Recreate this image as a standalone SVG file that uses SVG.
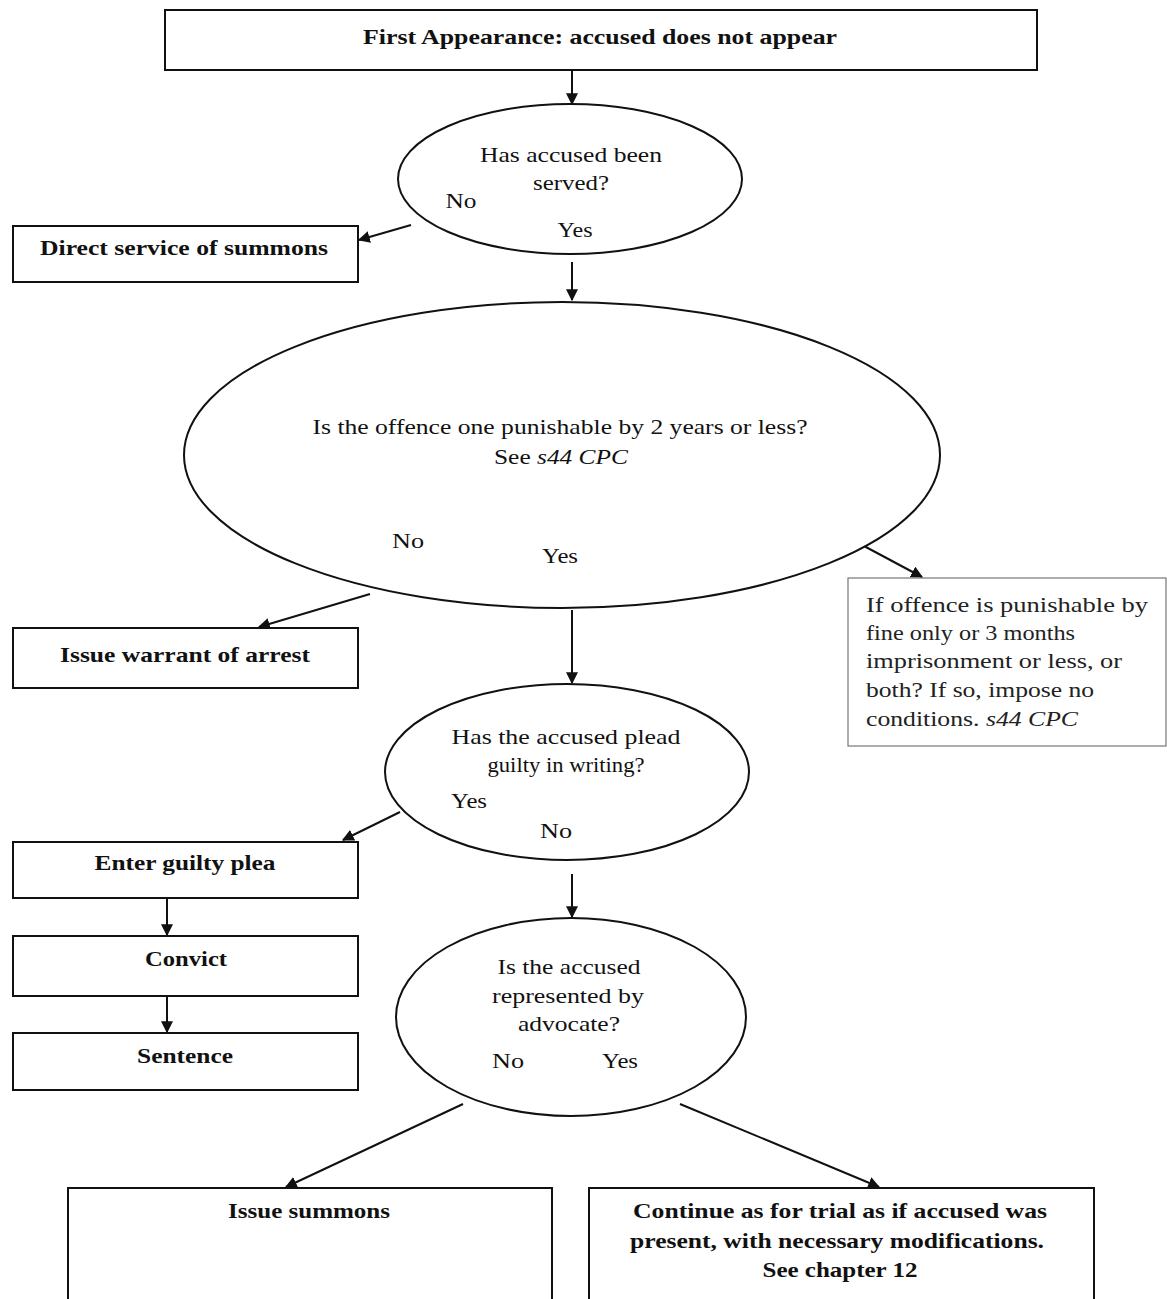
<svg xmlns="http://www.w3.org/2000/svg" width="1167" height="1299" viewBox="0 0 1167 1299">
<style>
.box{fill:#fff;stroke:#111;stroke-width:2}
.note{fill:#fff;stroke:#777;stroke-width:1.2}
.ell{fill:#fff;stroke:#111;stroke-width:2}
.b{font-family:"Liberation Serif",serif;font-weight:bold;font-size:22px;fill:#111;text-anchor:middle}
.t{font-family:"Liberation Serif",serif;font-size:22px;fill:#111;text-anchor:middle}
.tl{font-family:"Liberation Serif",serif;font-size:21px;fill:#222}
.con line{stroke:#111;stroke-width:2;marker-end:url(#ah)}
</style>
<defs>
<marker id="ah" viewBox="0 0 10 10" refX="9" refY="5" markerWidth="6" markerHeight="6" orient="auto" markerUnits="strokeWidth">
<path d="M0,0 L10,5 L0,10 z" fill="#111"/>
</marker>
</defs>
<rect width="1167" height="1299" fill="#fff"/>
<g class="con">
<line x1="572" y1="70" x2="572" y2="104"/>
<line x1="411" y1="225" x2="359" y2="240"/>
<line x1="572" y1="262" x2="572" y2="300"/>
<line x1="370" y1="594" x2="259" y2="627"/>
<line x1="864" y1="546" x2="922" y2="577"/>
<line x1="572" y1="610" x2="572" y2="683"/>
<line x1="400" y1="812" x2="343" y2="840"/>
<line x1="167" y1="898" x2="167" y2="935"/>
<line x1="167" y1="996" x2="167" y2="1032"/>
<line x1="572" y1="874" x2="572" y2="917"/>
<line x1="463" y1="1104" x2="286" y2="1187"/>
<line x1="680" y1="1104" x2="879" y2="1187"/>
</g>
<g id="n1"><rect class="box" x="165" y="10" width="872" height="60"/><text class="b" x="600" y="44" textLength="474" lengthAdjust="spacingAndGlyphs">First Appearance: accused does not appear</text></g>
<g id="d1"><ellipse class="ell" cx="570" cy="179" rx="172" ry="75"/>
<text class="t" x="571" y="162" textLength="182" lengthAdjust="spacingAndGlyphs">Has accused been</text>
<text class="t" x="571" y="190" textLength="76" lengthAdjust="spacingAndGlyphs">served?</text>
<text class="t" x="461" y="208" textLength="31" lengthAdjust="spacingAndGlyphs">No</text>
<text class="t" x="575" y="237" textLength="35" lengthAdjust="spacingAndGlyphs">Yes</text></g>
<g id="n2"><rect class="box" x="13" y="226" width="345" height="56"/><text class="b" x="184" y="255" textLength="288" lengthAdjust="spacingAndGlyphs">Direct service of summons</text></g>
<g id="d2"><ellipse class="ell" cx="562" cy="455" rx="378" ry="153"/>
<text class="t" x="560" y="434" textLength="495" lengthAdjust="spacingAndGlyphs">Is the offence one punishable by 2 years or less?</text>
<text class="t" x="561" y="464" textLength="134" lengthAdjust="spacingAndGlyphs"><tspan>See </tspan><tspan font-style="italic">s44 CPC</tspan></text>
<text class="t" x="408" y="548" textLength="32" lengthAdjust="spacingAndGlyphs">No</text>
<text class="t" x="560" y="563" textLength="36" lengthAdjust="spacingAndGlyphs">Yes</text></g>
<g id="n3"><rect class="box" x="13" y="628" width="345" height="60"/><text class="b" x="185" y="662" textLength="250" lengthAdjust="spacingAndGlyphs">Issue warrant of arrest</text></g>
<g id="n4"><rect class="note" x="848" y="578" width="318" height="168"/>
<text class="tl" x="866" y="612" textLength="282" lengthAdjust="spacingAndGlyphs">If offence is punishable by</text>
<text class="tl" x="866" y="640" textLength="209" lengthAdjust="spacingAndGlyphs">fine only or 3 months</text>
<text class="tl" x="866" y="668" textLength="256" lengthAdjust="spacingAndGlyphs">imprisonment or less, or</text>
<text class="tl" x="866" y="697" textLength="228" lengthAdjust="spacingAndGlyphs">both? If so, impose no</text>
<text class="tl" x="866" y="726" textLength="212" lengthAdjust="spacingAndGlyphs"><tspan>conditions. </tspan><tspan font-style="italic">s44 CPC</tspan></text></g>
<g id="d3"><ellipse class="ell" cx="567" cy="772" rx="182" ry="88"/>
<text class="t" x="566" y="744" textLength="229" lengthAdjust="spacingAndGlyphs">Has the accused plead</text>
<text class="t" x="566" y="772" textLength="157" lengthAdjust="spacingAndGlyphs">guilty in writing?</text>
<text class="t" x="469" y="808" textLength="36" lengthAdjust="spacingAndGlyphs">Yes</text>
<text class="t" x="556" y="838" textLength="32" lengthAdjust="spacingAndGlyphs">No</text></g>
<g id="n5"><rect class="box" x="13" y="842" width="345" height="56"/><text class="b" x="185" y="870" textLength="181" lengthAdjust="spacingAndGlyphs">Enter guilty plea</text></g>
<g id="n6"><rect class="box" x="13" y="936" width="345" height="60"/><text class="b" x="186" y="966" textLength="82" lengthAdjust="spacingAndGlyphs">Convict</text></g>
<g id="n7"><rect class="box" x="13" y="1033" width="345" height="57"/><text class="b" x="185" y="1063" textLength="96" lengthAdjust="spacingAndGlyphs">Sentence</text></g>
<g id="d4"><ellipse class="ell" cx="571" cy="1017" rx="175" ry="99"/>
<text class="t" x="569" y="974" textLength="143" lengthAdjust="spacingAndGlyphs">Is the accused</text>
<text class="t" x="568" y="1003" textLength="152" lengthAdjust="spacingAndGlyphs">represented by</text>
<text class="t" x="569" y="1031" textLength="102" lengthAdjust="spacingAndGlyphs">advocate?</text>
<text class="t" x="508" y="1068" textLength="32" lengthAdjust="spacingAndGlyphs">No</text>
<text class="t" x="620" y="1068" textLength="36" lengthAdjust="spacingAndGlyphs">Yes</text></g>
<g id="n8"><rect class="box" x="68" y="1188" width="484" height="130"/><text class="b" x="309" y="1218" textLength="162" lengthAdjust="spacingAndGlyphs">Issue summons</text></g>
<g id="n9"><rect class="box" x="589" y="1188" width="505" height="130"/>
<text class="b" x="840" y="1218" textLength="414" lengthAdjust="spacingAndGlyphs">Continue as for trial as if accused was</text>
<text class="b" x="837" y="1248" textLength="414" lengthAdjust="spacingAndGlyphs">present, with necessary modifications.</text>
<text class="b" x="840" y="1277" textLength="155" lengthAdjust="spacingAndGlyphs">See chapter 12</text></g>
</svg>
